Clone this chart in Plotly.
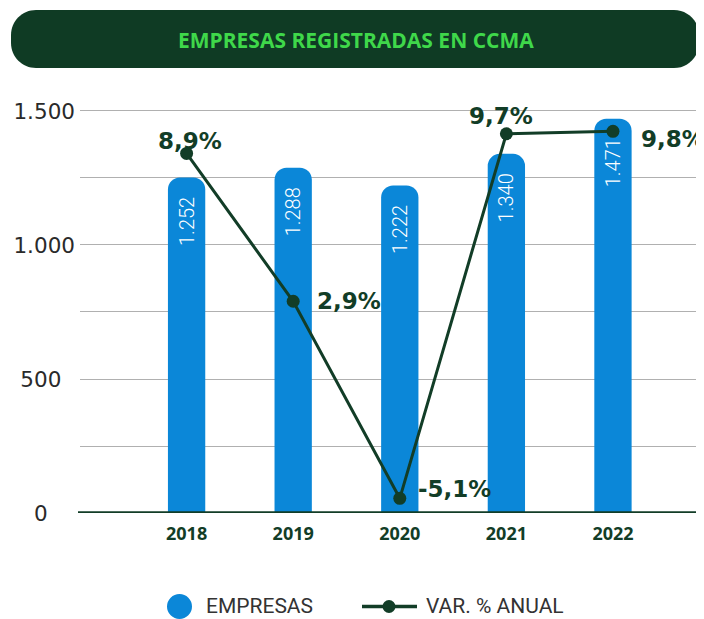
import plotly.graph_objects as go

# ---- data ----
years = ["2018", "2019", "2020", "2021", "2022"]
empresas = [1252, 1288, 1222, 1340, 1471]
var_anual = [8.9, 2.9, -5.1, 9.7, 9.8]
y_ticks = [0, 500, 1000, 1500]

title_text = "EMPRESAS REGISTRADAS EN CCMA"
bar_name = "EMPRESAS"
line_name = "VAR. % ANUAL"

# ---- style ----
BLUE = "#0b87d8"
DKGREEN = "#123d27"
BANNER = "#0f3b24"
BRIGHT = "#3fd84a"
GRID = "#b0b0b0"
NBSP = "\u00a0"

W, H = 704, 619
L, R, T, B = 72, 8, 92, 114          # plot area: x 72..696, y 92..505 (figure px)
PW, PH = W - L - R, H - T - B


def px(xf):
    return (xf - L) / PW


def py(yf):
    return (H - B - yf) / PH


def tick_label(v):
    return f"{v:,}".replace(",", ".")


# centre-align the y tick labels by padding shorter ones with no-break spaces
def text_em(s):
    return sum(0.318 if c in ".\u00a0" else 0.636 for c in s)


max_em = max(text_em(tick_label(v)) for v in y_ticks)
y_ticktext = [
    tick_label(v) + NBSP * round((max_em - text_em(tick_label(v))) / 2 / 0.318)
    for v in y_ticks
]

fig = go.Figure()

fig.add_trace(go.Bar(
    x=list(range(len(years))), y=empresas, name=bar_name, showlegend=False,
    marker=dict(color=BLUE, line=dict(width=0), cornerradius=12),
    width=0.35,
    texttemplate="%{y:,}" + NBSP * 3, textposition="inside", insidetextanchor="end",
    textangle=-90, textfont=dict(color="white", size=20, family="Roboto", weight=300),
    hoverinfo="skip",
))

fig.add_trace(go.Scatter(
    x=list(range(len(years))), y=var_anual, yaxis="y2", name=line_name,
    mode="lines+markers", showlegend=False,
    line=dict(color=DKGREEN, width=3),
    marker=dict(color=DKGREEN, size=13),
    cliponaxis=False,
))

# percentage labels (offsets in pixels relative to each point)
offsets = [  # (xanchor, xshift, yshift)
    ("center", 3, 12),
    ("left", 22, 0),
    ("left", 16, 9),
    ("center", -5, 18),
    ("left", 26, -8),
]
for i, (v, (xa, xs, ys)) in enumerate(zip(var_anual, offsets)):
    fig.add_annotation(
        x=i, y=v, xref="x", yref="y2", text=f"{v:.1f}%".replace(".", ","),
        showarrow=False, xanchor=xa, yanchor="middle", xshift=xs, yshift=ys,
        font=dict(family="DejaVu Sans", size=23, color=DKGREEN, weight=700),
    )

# title banner (rounded) + text
r = 25
hw, hh = 344, 29
k = r * 0.5523
path = (
    f"M {-hw + r},{-hh} L {hw - r},{-hh} "
    f"C {hw - r + k},{-hh} {hw},{-hh + r - k} {hw},{-hh + r} "
    f"L {hw},{hh - r} "
    f"C {hw},{hh - r + k} {hw - r + k},{hh} {hw - r},{hh} "
    f"L {-hw + r},{hh} "
    f"C {-hw + r - k},{hh} {-hw},{hh - r + k} {-hw},{hh - r} "
    f"L {-hw},{-hh + r} "
    f"C {-hw},{-hh + r - k} {-hw + r - k},{-hh} {-hw + r},{-hh} Z"
)
fig.add_shape(
    type="path", xref="paper", yref="paper",
    xsizemode="pixel", ysizemode="pixel",
    xanchor=px(347), yanchor=py(31),
    path=path, fillcolor=BANNER, line=dict(width=0), layer="above",
)
fig.add_annotation(
    x=px(348), y=py(32), xref="paper", yref="paper",
    text=title_text, showarrow=False, xanchor="center", yanchor="middle",
    font=dict(family="Open Sans", size=21, color=BRIGHT, weight=700),
)

# thick baseline
fig.add_shape(
    type="line", xref="paper", yref="y", x0=px(70), x1=1, y0=0, y1=0,
    line=dict(color=DKGREEN, width=3.5), layer="above",
)

# ---- legend (drawn keys + text) ----
LEG_Y = 598
fig.add_shape(
    type="circle", xref="paper", yref="paper", xsizemode="pixel", ysizemode="pixel",
    xanchor=px(171.5), yanchor=py(LEG_Y + 0.5), x0=-12.5, x1=12.5, y0=-12.5, y1=12.5,
    fillcolor=BLUE, line=dict(width=0),
)
fig.add_annotation(
    x=px(196), y=py(LEG_Y), xref="paper", yref="paper", text=bar_name,
    showarrow=False, xanchor="left", yanchor="middle",
    font=dict(family="Roboto", size=21, color="#333333"),
)
fig.add_shape(
    type="line", xref="paper", yref="paper", x0=px(354), x1=px(409),
    y0=py(LEG_Y + 0.5), y1=py(LEG_Y + 0.5), line=dict(color=DKGREEN, width=3.5),
)
fig.add_shape(
    type="circle", xref="paper", yref="paper", xsizemode="pixel", ysizemode="pixel",
    xanchor=px(381), yanchor=py(LEG_Y + 0.5), x0=-6.5, x1=6.5, y0=-6.5, y1=6.5,
    fillcolor=DKGREEN, line=dict(width=0),
)
fig.add_annotation(
    x=px(416), y=py(LEG_Y), xref="paper", yref="paper", text=line_name,
    showarrow=False, xanchor="left", yanchor="middle",
    font=dict(family="Roboto", size=21, color="#333333"),
)

fig.update_layout(
    width=W, height=H,
    margin=dict(l=L, r=R, t=T, b=B, autoexpand=False),
    plot_bgcolor="white", paper_bgcolor="white",
    separators=",.",
    showlegend=False,
    xaxis=dict(
        range=[-1.0, 4.854], showgrid=False, zeroline=False,
        showline=False, ticks="",
        tickvals=list(range(len(years))), ticktext=years,
        ticklabelstandoff=8,
        tickfont=dict(family="Open Sans", size=18, color=DKGREEN, weight=700),
    ),
    yaxis=dict(
        range=[0, 1541], tickvals=y_ticks, ticktext=y_ticktext,
        showgrid=True, gridcolor=GRID, gridwidth=1,
        minor=dict(dtick=250, tick0=0, showgrid=True, gridcolor=GRID, gridwidth=1),
        zeroline=False, showline=False, ticks="",
        ticklabelstandoff=4,
        tickfont=dict(family="DejaVu Sans", size=21.5, color="#2a2a2a", weight=400),
    ),
    yaxis2=dict(
        overlaying="y", side="right", range=[-5.696, 11.07],
        showgrid=False, zeroline=False, showticklabels=False, showline=False,
    ),
)

fig.write_html("out.html")
